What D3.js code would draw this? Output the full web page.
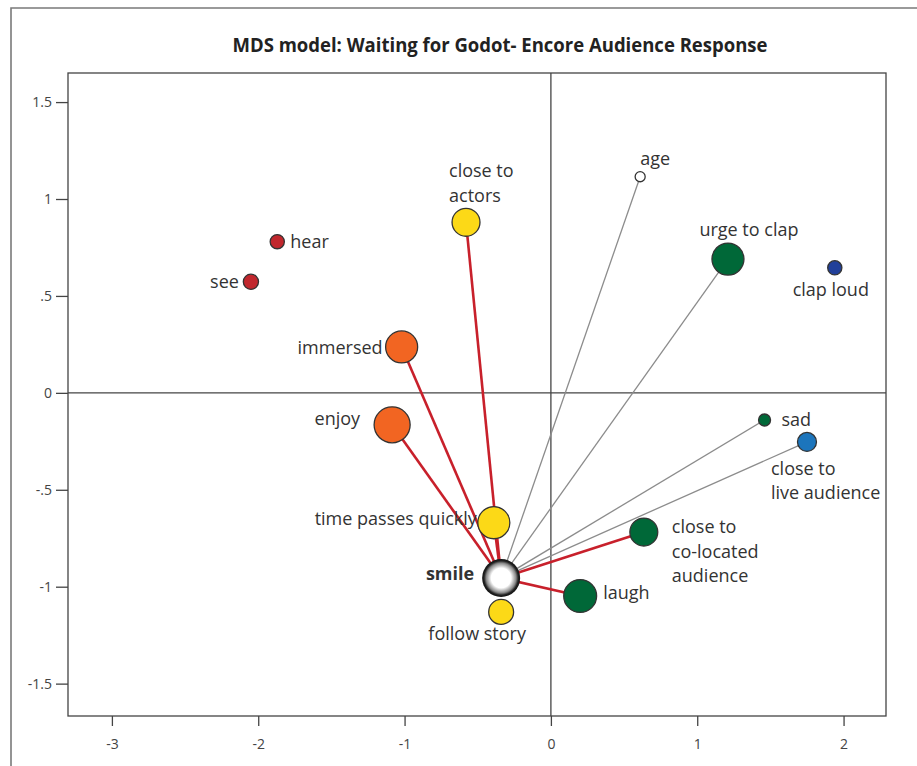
<!DOCTYPE html>
<html>
<head>
<meta charset="utf-8">
<script src="https://cdn.jsdelivr.net/npm/d3@7"></script>
<style>
  html, body { margin: 0; padding: 0; background: #fff; }
  svg { display: block; }
  text { font-family: "Open Sans", "Noto Sans", sans-serif; fill: #333; }
</style>
</head>
<body>
<svg id="chart" width="917" height="766"></svg>
<script>
// MDS configuration: item names, two dimensions, and bubble weights
const items = ["smile", "follow story", "time passes quickly", "enjoy", "immersed",
  "close to actors", "hear", "see", "age", "urge to clap", "clap loud", "sad",
  "close to live audience", "close to co-located audience", "laugh"];
const dim1 = [-0.34, -0.34, -0.39, -1.085, -1.02, -0.58, -1.87, -2.05, 0.61, 1.21, 1.94, 1.46, 1.75, 0.635, 0.20];
const dim2 = [-0.955, -1.13, -0.67, -0.165, 0.237, 0.88, 0.78, 0.573, 1.115, 0.69, 0.645, -0.14, -0.253, -0.718, -1.048];
const weight = [100, 43, 71, 90, 71, 54, 14, 16, 7, 71, 14, 10, 25, 54, 75];
const group = ["hub", "yellow", "yellow", "orange", "orange", "yellow", "red", "red", "none",
  "green", "navy", "green", "blue", "green", "green"];
// links from the hub item: strong (red) and weak (grey)
const strongLinks = ["close to actors", "immersed", "enjoy", "time passes quickly", "close to co-located audience", "laugh"];
const weakLinks = ["age", "urge to clap", "sad", "close to live audience"];
const xTicks = [-3, -2, -1, 0, 1, 2];
const yTicks = [1.5, 1, 0.5, 0, -0.5, -1, -1.5];

const palette = { yellow: "#fcd917", orange: "#f26522", red: "#c1272d", green: "#006838",
  navy: "#21409a", blue: "#1c75bc", none: "#ffffff", hub: "url(#hubGrad)" };

// label layout relative to the bubble centre: anchor, dx, baseline dy, lines
const labelSpec = {
  "smile": { anchor: "end", dx: -27, dy: 2, lines: ["smile"], bold: true },
  "follow story": { anchor: "middle", dx: -24, dy: 28, lines: ["follow story"] },
  "time passes quickly": { anchor: "end", dx: -17, dy: 2, lines: ["time passes quickly"] },
  "enjoy": { anchor: "end", dx: -32, dy: 0, lines: ["enjoy"] },
  "immersed": { anchor: "end", dx: -19, dy: 7, lines: ["immersed"] },
  "close to actors": { anchor: "start", dx: -17, dy: -45, lines: ["close to", "actors"] },
  "hear": { anchor: "start", dx: 13, dy: 6, lines: ["hear"] },
  "see": { anchor: "end", dx: -12, dy: 6, lines: ["see"] },
  "age": { anchor: "start", dx: 0, dy: -12, lines: ["age"] },
  "urge to clap": { anchor: "middle", dx: 21, dy: -23, lines: ["urge to clap"] },
  "clap loud": { anchor: "middle", dx: -4, dy: 28, lines: ["clap loud"] },
  "sad": { anchor: "start", dx: 17, dy: 6, lines: ["sad"] },
  "close to live audience": { anchor: "start", dx: -36, dy: 33, lines: ["close to", "live audience"] },
  "close to co-located audience": { anchor: "start", dx: 28, dy: 1, lines: ["close to", "co-located", "audience"] },
  "laugh": { anchor: "start", dx: 23, dy: 3, lines: ["laugh"] }
};

const svg = d3.select("#chart");
const margin = { left: 68, right: 31, top: 73, bottom: 50 };
const W = 917, H = 766;

const x = d3.scaleLinear().domain([-3.3, 2.29]).range([margin.left, W - margin.right]);
const y = d3.scaleLinear().domain([-1.667, 1.65]).range([H - margin.bottom, margin.top]);
const r = d3.scaleSqrt().domain([0, 100]).range([0, 19]);

const data = items.map((name, i) => ({ name, x: dim1[i], y: dim2[i], w: weight[i], g: group[i] }));
const byName = new Map(data.map(d => [d.name, d]));
const hub = byName.get("smile");

// gradient for the hub bubble
const defs = svg.append("defs");
const grad = defs.append("radialGradient").attr("id", "hubGrad");
grad.append("stop").attr("offset", "0%").attr("stop-color", "#ffffff");
grad.append("stop").attr("offset", "52%").attr("stop-color", "#ffffff");
grad.append("stop").attr("offset", "78%").attr("stop-color", "#8a8a8a");
grad.append("stop").attr("offset", "90%").attr("stop-color", "#222222");
grad.append("stop").attr("offset", "100%").attr("stop-color", "#111111");

// outer frame
svg.append("path").attr("d", `M11,${H + 2} V8 H${W + 2}`)
  .attr("fill", "none").attr("stroke", "#7a7a7a").attr("stroke-width", 1.6);

// title
svg.append("text").attr("x", 500).attr("y", 52).attr("text-anchor", "middle")
  .attr("font-weight", "bold").attr("font-size", 19)
  .attr("textLength", 535).attr("lengthAdjust", "spacingAndGlyphs")
  .style("fill", "#222")
  .text("MDS model: Waiting for Godot- Encore Audience Response");

// plot frame
svg.append("rect").attr("x", margin.left).attr("y", margin.top)
  .attr("width", W - margin.right - margin.left).attr("height", H - margin.bottom - margin.top)
  .attr("fill", "none").attr("stroke", "#444").attr("stroke-width", 1.3);

// axes, with plain hyphen minus and no leading zero
const fmt = d => String(d).replace(/^(-?)0\./, "$1.");
const xAxis = svg.append("g").attr("transform", `translate(0,${H - margin.bottom})`)
  .call(d3.axisBottom(x).tickValues(xTicks).tickSize(10).tickPadding(13).tickFormat(fmt));
const yAxis = svg.append("g").attr("transform", `translate(${margin.left},0)`)
  .call(d3.axisLeft(y).tickValues(yTicks).tickSize(12).tickPadding(4).tickFormat(fmt));
[xAxis, yAxis].forEach(a => {
  a.select(".domain").remove();
  a.selectAll("line").attr("stroke", "#444").attr("stroke-width", 1.3);
  a.selectAll("text").attr("font-size", 14).style("fill", "#444")
    .style("font-family", "'Open Sans', sans-serif");
});

// zero lines
svg.append("line").attr("x1", x(0)).attr("x2", x(0)).attr("y1", margin.top).attr("y2", H - margin.bottom)
  .attr("stroke", "#444").attr("stroke-width", 1.3);
svg.append("line").attr("x1", margin.left).attr("x2", W - margin.right).attr("y1", y(0)).attr("y2", y(0))
  .attr("stroke", "#444").attr("stroke-width", 1.3);

// links
const links = svg.append("g");
weakLinks.forEach(n => {
  const d = byName.get(n);
  links.append("line").attr("x1", x(hub.x)).attr("y1", y(hub.y)).attr("x2", x(d.x)).attr("y2", y(d.y))
    .attr("stroke", "#8c8c8c").attr("stroke-width", 1.3);
});
strongLinks.forEach(n => {
  const d = byName.get(n);
  links.append("line").attr("x1", x(hub.x)).attr("y1", y(hub.y)).attr("x2", x(d.x)).attr("y2", y(d.y))
    .attr("stroke", "#c8202b").attr("stroke-width", 2.6);
});

// bubbles
svg.append("g").selectAll("circle").data(data).join("circle")
  .attr("cx", d => x(d.x)).attr("cy", d => y(d.y)).attr("r", d => r(d.w))
  .attr("fill", d => palette[d.g])
  .attr("stroke", d => d.g === "hub" ? "none" : "#333").attr("stroke-width", 1.3);

// labels
const lab = svg.append("g");
data.forEach(d => {
  const s = labelSpec[d.name];
  const t = lab.append("text").attr("text-anchor", s.anchor).attr("font-size", 18)
    .attr("font-weight", s.bold ? "bold" : "normal")
    .attr("x", x(d.x) + s.dx).attr("y", y(d.y) + s.dy);
  s.lines.forEach((ln, i) => {
    t.append("tspan").attr("x", x(d.x) + s.dx).attr("dy", i === 0 ? 0 : 24.5).text(ln);
  });
});
</script>
</body>
</html>
